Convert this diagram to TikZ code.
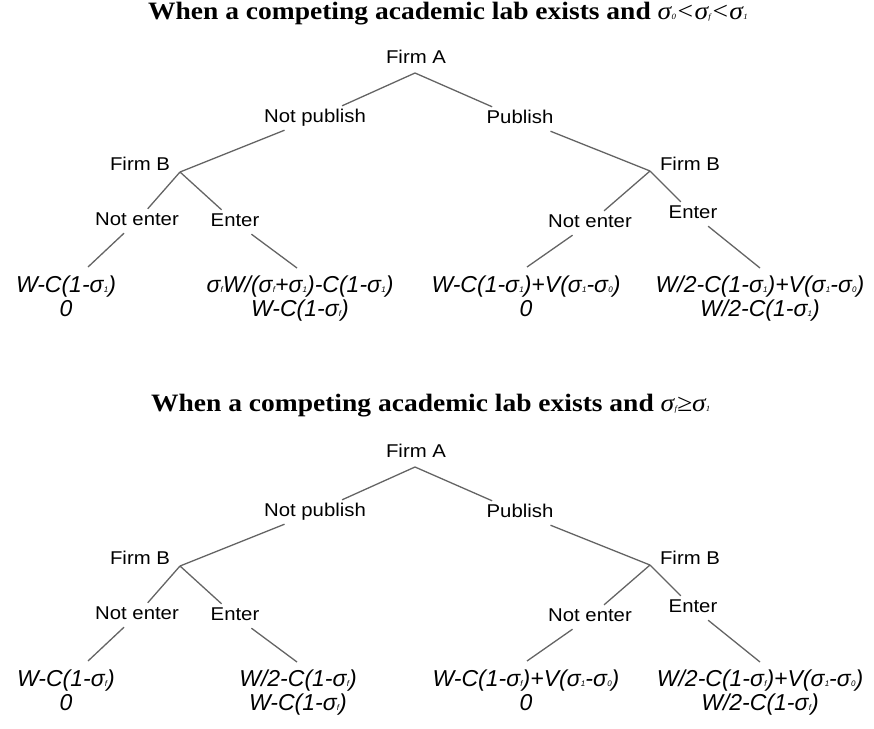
\documentclass[tikz,border=0pt]{standalone}
\usepackage{fontspec}
\setmainfont{Liberation Serif}
\newfontfamily\headfont[FakeStretch=1.1]{Liberation Serif}
\newfontfamily\treefont[FakeStretch=1.1]{Liberation Sans}
\newfontfamily\payfont{Liberation Sans}
\definecolor{branchgray}{RGB}{100,100,100}
\newcommand{\sgm}[1]{σ\kern0.3pt{\fontsize{8}{8}\selectfont #1}}

\begin{document}
\begin{tikzpicture}[x=1pt, y=-1pt,
  branch/.style={branchgray, line width=1.3pt},
  move/.style={font=\treefont\fontsize{18.5}{20}\selectfont, inner sep=3.5pt, text height=13pt, text depth=4pt},
  player/.style={font=\treefont\fontsize{18.5}{20}\selectfont, inner sep=0pt},
  payoff/.style={font=\payfont\itshape\fontsize{23}{24}\selectfont, align=center, anchor=north, inner sep=0pt},
  heading/.style={font=\headfont\bfseries\fontsize{25}{28}\selectfont, anchor=base west, inner sep=0pt}]
  \useasboundingbox (0,0) rectangle (874,728);

  % Headings
  \node[heading] (title1) at (148,19.5) {When a competing academic lab exists and {\mdseries\itshape \sgm{0}<\sgm{f}<\sgm{1}}};
  \node[heading] (title2) at (151,411) {When a competing academic lab exists and {\mdseries\itshape \sgm{f}≥\sgm{1}}};

  % Both game trees
  \foreach \t/\dy in {1/0, 2/394} {
    % decision points and ends
    \coordinate (A\t) at (415,{73+\dy});
    \coordinate (BL\t) at (180,{172+\dy});
    \coordinate (BR\t) at (650,{171+\dy});
    \coordinate (L\t a) at (88,{267+\dy});
    \coordinate (L\t b) at (297,{268+\dy});
    \coordinate (L\t c) at (527,{267+\dy});
    \coordinate (L\t d) at (760,{268+\dy});

    % players
    \node[player] (fA\t) at (416,{57+\dy}) {Firm A};
    \node[player] (fBL\t) at (140,{164+\dy}) {Firm B};
    \node[player] (fBR\t) at (690,{164+\dy}) {Firm B};

    % moves
    \node[move] (np\t) at (315,{118+\dy}) {Not publish};
    \node[move] (pb\t) at (520,{119+\dy}) {Publish};
    \node[move] (neL\t) at (137,{221+\dy}) {Not enter};
    \node[move] (enL\t) at (235,{222+\dy}) {Enter};
    \node[move] (neR\t) at (590,{223+\dy}) {Not enter};
    \node[move] (enR\t) at (693,{214+\dy}) {Enter};

    % branches
    \draw[branch] (A\t) -- (np\t) -- (BL\t);
    \draw[branch] (A\t) -- (pb\t) -- (BR\t);
    \draw[branch] (BL\t) -- (neL\t) -- (L\t a);
    \draw[branch] (BL\t) -- (enL\t) -- (L\t b);
    \draw[branch] (BR\t) -- (neR\t) -- (L\t c);
    \draw[branch] (BR\t) -- (enR\t) -- (L\t d);
  }

  % Payoffs, first tree
  \node[payoff] (p1a) at (66,276) {W-C(1-\sgm{1})\\0};
  \node[payoff] (p1b) at (300,276) {\sgm{f}W/(\sgm{f}+\sgm{1})-C(1-\sgm{1})\\W-C(1-\sgm{f})};
  \node[payoff] (p1c) at (526,276) {W-C(1-\sgm{1})+V(\sgm{1}-\sgm{0})\\0};
  \node[payoff] (p1d) at (760,276) {W/2-C(1-\sgm{1})+V(\sgm{1}-\sgm{0})\\W/2-C(1-\sgm{1})};

  % Payoffs, second tree
  \node[payoff] (p2a) at (66,670) {W-C(1-\sgm{f})\\0};
  \node[payoff] (p2b) at (298,670) {W/2-C(1-\sgm{f})\\W-C(1-\sgm{f})};
  \node[payoff] (p2c) at (526,670) {W-C(1-\sgm{f})+V(\sgm{1}-\sgm{0})\\0};
  \node[payoff] (p2d) at (760,670) {W/2-C(1-\sgm{f})+V(\sgm{1}-\sgm{0})\\W/2-C(1-\sgm{f})};
\end{tikzpicture}
\end{document}
